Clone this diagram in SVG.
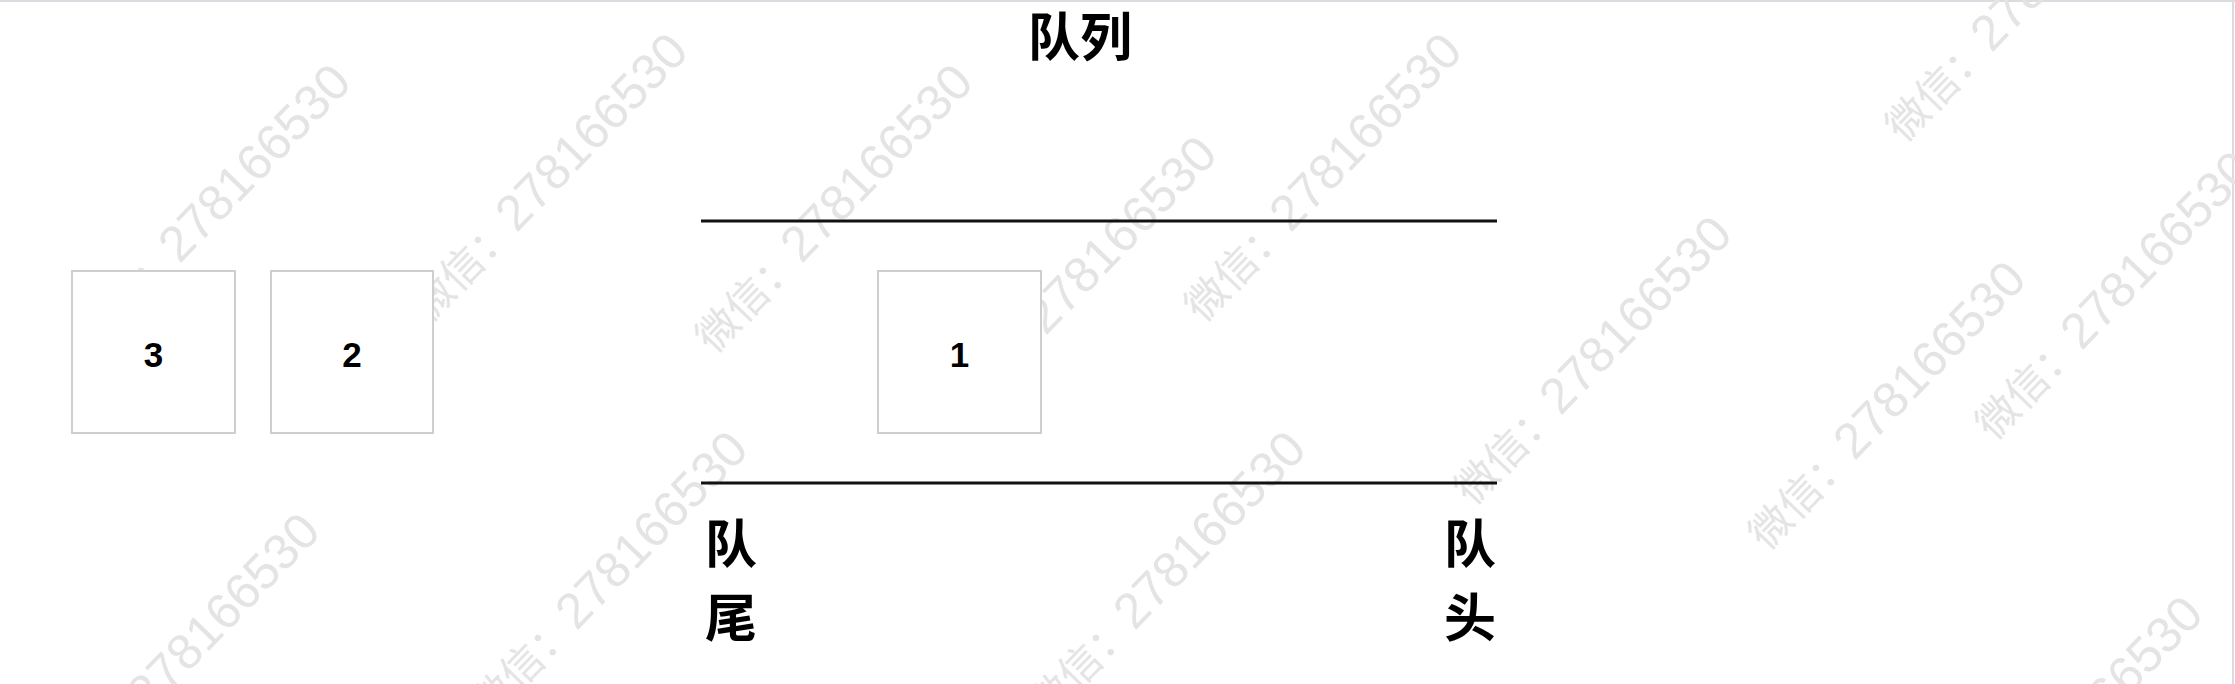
<svg xmlns="http://www.w3.org/2000/svg" width="2235" height="684" viewBox="0 0 2235 684">
<style>
.wm{font-family:"Liberation Sans","Noto Sans CJK SC",sans-serif;font-size:50px;fill:#e4e4e4}
.wm tspan{font-size:42px}
.box{fill:#ffffff;stroke:#cfcfcf;stroke-width:2}
.num{font-family:"Liberation Sans",Arial,sans-serif;font-size:35px;font-weight:bold;fill:#000;text-anchor:middle}
.cjk{font-family:"Noto Sans CJK SC","Noto Sans CJK JP",sans-serif;font-weight:bold;fill:#000}
.wall{stroke:#111;stroke-width:3}
</style>
<rect width="2235" height="684" fill="#ffffff"/>
<g id="frame" stroke="#d9dde2" stroke-width="2">
<line x1="0" y1="1" x2="2235" y2="1"/>
<line x1="2233" y1="0" x2="2233" y2="684"/>
</g>
<g id="watermarks" class="wm">
<text transform="translate(181,263) rotate(-46)" x="-128"><tspan>微信：</tspan>278166530</text>
<text transform="translate(518,232) rotate(-46)" x="-128"><tspan>微信：</tspan>278166530</text>
<text transform="translate(803,263) rotate(-46)" x="-128"><tspan>微信：</tspan>278166530</text>
<text transform="translate(1047,335) rotate(-46)" x="-128"><tspan>微信：</tspan>278166530</text>
<text transform="translate(1292,232) rotate(-46)" x="-128"><tspan>微信：</tspan>278166530</text>
<text transform="translate(1562,415) rotate(-46)" x="-128"><tspan>微信：</tspan>278166530</text>
<text transform="translate(1993,52) rotate(-46)" x="-128"><tspan>微信：</tspan>278166530</text>
<text transform="translate(2083,350) rotate(-46)" x="-128"><tspan>微信：</tspan>278166530</text>
<text transform="translate(1856,460) rotate(-46)" x="-128"><tspan>微信：</tspan>278166530</text>
<text transform="translate(2033,795) rotate(-46)" x="-128"><tspan>微信：</tspan>278166530</text>
<text transform="translate(150,712) rotate(-46)" x="-128"><tspan>微信：</tspan>278166530</text>
<text transform="translate(578,630) rotate(-46)" x="-128"><tspan>微信：</tspan>278166530</text>
<text transform="translate(1136,630) rotate(-46)" x="-128"><tspan>微信：</tspan>278166530</text>
</g>
<g id="title"><text class="cjk" x="1080" y="56" font-size="52" text-anchor="middle">队列</text></g>
<g id="connectors">
<line class="wall" x1="701" y1="221" x2="1497" y2="221"/>
<line class="wall" x1="701" y1="483" x2="1497" y2="483"/>
</g>
<g id="node-3"><rect class="box" x="72" y="271" width="163" height="162"/><text class="num" x="153.5" y="367">3</text></g>
<g id="node-2"><rect class="box" x="271" y="271" width="162" height="162"/><text class="num" x="352" y="367">2</text></g>
<g id="node-1"><rect class="box" x="878" y="271" width="163" height="162"/><text class="num" x="959.5" y="367">1</text></g>
<g id="tail-label"><text class="cjk" x="705" y="563" font-size="52">队</text><text class="cjk" x="705" y="637" font-size="52">尾</text></g>
<g id="head-label"><text class="cjk" x="1444" y="563" font-size="52">队</text><text class="cjk" x="1444" y="637" font-size="52">头</text></g>
</svg>
